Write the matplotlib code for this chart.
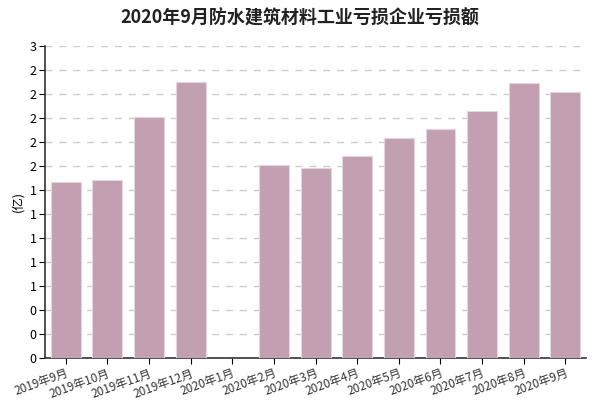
import matplotlib

matplotlib.use("Agg")
import matplotlib.pyplot as plt
from matplotlib.ticker import FuncFormatter, MultipleLocator

plt.rcParams["font.family"] = ["Noto Sans CJK SC", "DejaVu Sans"]

# monthly loss of loss-making enterprises (100 million yuan)
months = ["2019年9月", "2019年10月", "2019年11月", "2019年12月", "2020年1月",
          "2020年2月", "2020年3月", "2020年4月", "2020年5月", "2020年6月",
          "2020年7月", "2020年8月", "2020年9月"]
losses = [1.47, 1.48, 2.005, 2.30, None,
          1.61, 1.58, 1.68, 1.83, 1.91,
          2.06, 2.29, 2.215]

title = "2020年9月防水建筑材料工业亏损企业亏损额"
ylabel = "(亿)"

fig = plt.figure(figsize=(6.0, 4.07), dpi=100)
ax = fig.add_axes([0.075, 0.1197, 0.902, 0.768])

xs = [i for i, v in enumerate(losses) if v is not None]
vals = [v for v in losses if v is not None]
ax.bar(xs, vals, width=0.72, color="#c3a0b1", edgecolor="#e8d4dd",
       linewidth=0.8, zorder=3)

ax.set_xlim(-0.5, len(months) - 0.5)
ax.set_ylim(0, 2.6)
ax.yaxis.set_major_locator(MultipleLocator(0.2))
ax.yaxis.set_major_formatter(FuncFormatter(lambda v, _: f"{v:.0f}"))
ax.set_xticks(range(len(months)))
ax.set_xticklabels(months, rotation=20, ha="right", fontsize=8.5,
                   color="#333333", rotation_mode="anchor")
ax.tick_params(axis="x", length=4, pad=2)
ax.tick_params(axis="y", labelsize=9, length=4, pad=2)

ax.grid(axis="y", color="#cccccc", linestyle=(0, (5, 5)), linewidth=1,
        zorder=0)
for side in ("top", "right"):
    ax.spines[side].set_visible(False)
for side in ("left", "bottom"):
    ax.spines[side].set_color("#333333")
    ax.spines[side].set_linewidth(1.2)

ax.set_ylabel(ylabel, fontsize=9, labelpad=4)
fig.text(0.5, 0.955, title, ha="center", va="center", fontsize=13,
         fontweight="bold", color="#222222")

fig.savefig("out.png", dpi=100)
